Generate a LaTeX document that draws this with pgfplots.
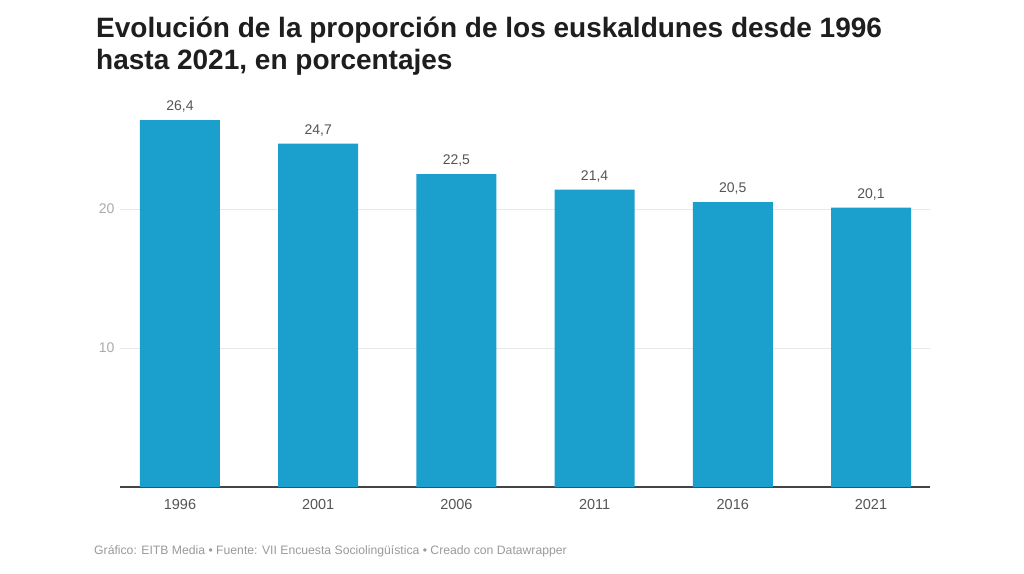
\documentclass[border=0pt]{standalone}
\usepackage{fontspec}
\setmainfont{Liberation Sans}
\usepackage{pgfplots}
\pgfplotsset{compat=1.18}
\definecolor{barblue}{HTML}{1B9FCC}
\definecolor{titlecol}{HTML}{1E1E1E}
\definecolor{gridcol}{HTML}{E8E8E8}
\definecolor{ticklab}{HTML}{AAAAAA}
\definecolor{xlab}{HTML}{555555}
\definecolor{foot}{HTML}{9A9A9A}
\definecolor{baseline}{HTML}{444444}
\begin{document}
\begin{tikzpicture}[x=1pt,y=1pt]
\useasboundingbox[fill=white] (0pt,0pt) rectangle (1024pt,573pt);
\node[anchor=base west, inner sep=0pt, font=\fontsize{28}{33}\selectfont\bfseries, text=titlecol] at (96pt,535pt) {Evolución de la proporción de los euskaldunes desde 1996};
\node[anchor=base west, inner sep=0pt, font=\fontsize{28}{33}\selectfont\bfseries, text=titlecol] at (96pt,503pt) {hasta 2021, en porcentajes};
\begin{axis}[
  at={(120pt,86pt)}, anchor=south west,
  scale only axis, width=810pt, height=389.2pt,
  xmin=-0.434, xmax=5.427, ymin=0, ymax=28,
  ybar, bar width=80pt,
  axis lines*=left,
  y axis line style={draw=none},
  x axis line style={draw=baseline, line width=1.5pt},
  major tick length=0pt,
  ymajorgrids, grid style={gridcol, line width=0.8pt},
  ytick={10,20},
  yticklabel style={text=ticklab, font=\fontsize{14}{16}\selectfont, xshift=-2pt},
  xtick=data,
  xticklabels={1996,2001,2006,2011,2016,2021},
  xticklabel style={text=xlab, font=\fontsize{14.5}{16}\selectfont, yshift=-9pt},
  /pgf/number format/assume math mode=true,
  nodes near coords,
  nodes near coords style={text=xlab, font=\fontsize{14}{16}\selectfont, yshift=4pt,
    /pgf/number format/.cd, fixed, fixed zerofill, precision=1, use comma},
]
\addplot[fill=barblue, draw=none] coordinates {(0,26.4) (1,24.7) (2,22.5) (3,21.4) (4,20.5) (5,20.1)};
\end{axis}
\node[anchor=base west, inner sep=0pt, font=\fontsize{12.2}{15}\selectfont, text=foot] at (94pt,19pt) {Gráfico: EITB Media • Fuente: VII Encuesta Sociolingüística • Creado con Datawrapper};
\end{tikzpicture}
\end{document}
